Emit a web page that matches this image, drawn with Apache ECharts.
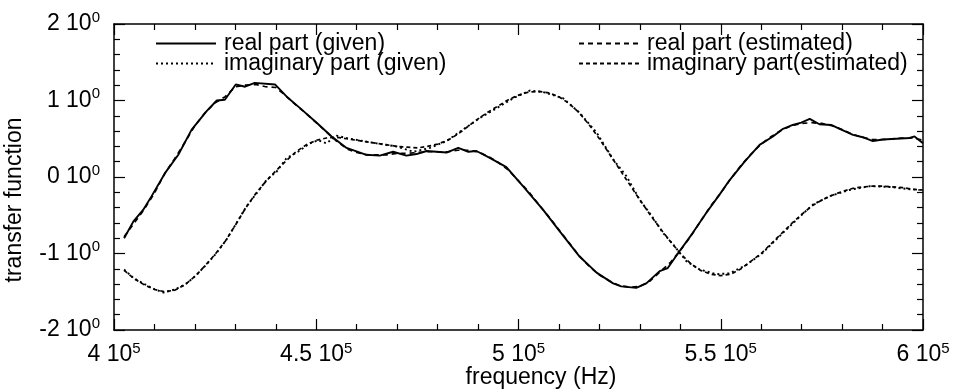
<!DOCTYPE html>
<html>
<head>
<meta charset="utf-8">
<script src="https://cdn.jsdelivr.net/npm/echarts@6/dist/echarts.min.js"></script>
<style>
  html, body { margin: 0; padding: 0; background: #fff; }
  #chart { width: 955px; height: 391px; }
</style>
</head>
<body>
<div id="chart"></div>
<script>
// Frequencies in kHz, transfer function values (dimensionless)
const realGivenF = [402.5,404.8,407.2,409.3,412.6,415.9,419.2,422.9,425.4,427.4,430.1,432.4,434.8,439.8,442.7,446.0,450.1,453.8,457.5,462.4,465.7,469.0,472.3,474.8,477.3,482.2,485.1,487.6,489.6,492.9,497.0,501.1,506.1,510.2,515.1,519.3,523.4,525.4,529.1,531.6,534.9,536.9,539.8,543.1,546.4,549.7,552.2,555.9,559.6,562.9,565.4,567.8,569.9,572.0,574.4,577.3,579.4,582.7,585.1,587.6,590.1,593.4,596.7,597.9,600.0];
const realGivenV = [-0.80,-0.58,-0.43,-0.25,0.05,0.29,0.62,0.86,1.00,1.01,1.21,1.18,1.23,1.21,1.05,0.90,0.71,0.53,0.38,0.29,0.28,0.33,0.28,0.30,0.34,0.32,0.38,0.33,0.34,0.25,0.13,-0.12,-0.43,-0.71,-1.04,-1.25,-1.39,-1.43,-1.45,-1.39,-1.23,-1.19,-0.97,-0.73,-0.47,-0.23,-0.04,0.20,0.42,0.53,0.63,0.68,0.71,0.76,0.69,0.68,0.63,0.55,0.52,0.47,0.49,0.50,0.51,0.53,0.44];

const imagGivenF = [402.5,404.8,407.2,409.7,412.2,415.1,418.0,420.4,422.9,425.4,427.8,430.3,432.8,435.3,437.7,440.2,442.7,445.5,448.4,450.5,452.5,455.0,458.3,461.6,464.9,469.8,474.0,478.1,482.2,486.3,490.4,494.6,498.7,502.8,506.1,511.0,515.1,519.3,523.4,526.7,530.0,532.4,534.1,535.7,538.2,541.5,544.8,548.9,552.2,556.3,560.4,565.4,569.5,572.8,576.9,581.8,586.8,591.7,596.7,599.2];
const imagGivenV = [-1.21,-1.32,-1.39,-1.46,-1.51,-1.47,-1.39,-1.28,-1.14,-0.99,-0.82,-0.60,-0.38,-0.21,-0.04,0.07,0.25,0.33,0.44,0.48,0.44,0.54,0.50,0.47,0.44,0.40,0.33,0.38,0.47,0.62,0.77,0.90,1.03,1.13,1.11,1.03,0.84,0.58,0.23,0.01,-0.30,-0.47,-0.60,-0.73,-0.88,-1.10,-1.21,-1.27,-1.26,-1.15,-0.99,-0.73,-0.52,-0.36,-0.25,-0.17,-0.12,-0.13,-0.16,-0.17];

const estF = [402.5,405,407.5,410,412.5,415,417.5,420,422.5,425,427.5,430,432.5,435,437.5,440,442.5,445,447.5,450,452.5,455,457.5,460,462.5,465,467.5,470,472.5,475,477.5,480,482.5,485,487.5,490,492.5,495,497.5,500,502.5,505,507.5,510,512.5,515,517.5,520,522.5,525,527.5,530,532.5,535,537.5,540,542.5,545,547.5,550,552.5,555,557.5,560,562.5,565,567.5,570,572.5,575,577.5,580,582.5,585,587.5,590,592.5,595,597.5,600];
const realEstV = [-0.78,-0.60,-0.42,-0.21,0.04,0.24,0.45,0.67,0.84,0.97,1.05,1.18,1.20,1.21,1.18,1.17,1.06,0.94,0.83,0.71,0.59,0.47,0.37,0.32,0.29,0.29,0.29,0.31,0.31,0.32,0.33,0.33,0.33,0.35,0.35,0.33,0.27,0.19,0.09,-0.05,-0.19,-0.36,-0.52,-0.69,-0.86,-1.03,-1.17,-1.28,-1.36,-1.42,-1.44,-1.43,-1.36,-1.24,-1.12,-0.96,-0.78,-0.58,-0.38,-0.21,-0.02,0.15,0.30,0.43,0.53,0.61,0.67,0.70,0.71,0.70,0.67,0.62,0.56,0.52,0.49,0.49,0.50,0.51,0.51,0.48];
const imagEstV = [-1.22,-1.33,-1.41,-1.47,-1.50,-1.48,-1.41,-1.30,-1.16,-1.01,-0.84,-0.63,-0.41,-0.22,-0.06,0.08,0.21,0.33,0.42,0.48,0.51,0.52,0.50,0.48,0.46,0.44,0.42,0.40,0.39,0.38,0.40,0.43,0.48,0.56,0.66,0.76,0.85,0.93,1.01,1.07,1.11,1.12,1.10,1.05,0.96,0.84,0.68,0.50,0.30,0.10,-0.10,-0.30,-0.49,-0.67,-0.84,-1.00,-1.13,-1.22,-1.27,-1.29,-1.27,-1.20,-1.10,-1.00,-0.87,-0.74,-0.61,-0.49,-0.38,-0.30,-0.24,-0.19,-0.15,-0.13,-0.12,-0.12,-0.13,-0.14,-0.16,-0.17];

const seriesNames = ['real part (given)', 'imaginary part (given)', 'real part (estimated)', 'imaginary part(estimated)'];
const xAxisTitle = 'frequency (Hz)';
const yAxisTitle = 'transfer function';

const FONT = "'Liberation Sans', Arial, Helvetica, sans-serif";
const FS = 23;

function pairs(fk, v) {
  return fk.map((f, i) => [f * 1000, v[i]]);
}

// "m 10^e" style tick labels
const richLabel = {
  n: { fontSize: FS, fontFamily: FONT, color: '#000' },
  s: { fontSize: 15, fontFamily: FONT, color: '#000', padding: [0, 0, 13, 0] }
};
function xLabel(val) {
  const m = +(val / 1e5).toFixed(2);
  return '{n|' + m + ' 10}{s|5}';
}
function yLabel(val) {
  return '{n|' + val + ' 10}{s|0}';
}

const axisLineStyle = { color: '#000', width: 1.5 };
const tickStyle = { color: '#000', width: 1.2 };

function makeX(pos, showLabels) {
  return {
    type: 'value', min: 400000, max: 600000, interval: 50000, position: pos,
    axisLine: { show: true, onZero: false, lineStyle: axisLineStyle },
    axisTick: { show: true, inside: true, length: 11, lineStyle: tickStyle },
    minorTick: { show: true, splitNumber: 5, length: 6, lineStyle: tickStyle },
    splitLine: { show: false },
    axisLabel: { show: showLabels, margin: 11, formatter: xLabel, rich: richLabel }
  };
}
function makeY(pos, showLabels) {
  return {
    type: 'value', min: -2, max: 2, interval: 1, position: pos,
    axisLine: { show: true, onZero: false, lineStyle: axisLineStyle },
    axisTick: { show: true, inside: true, length: 11, lineStyle: tickStyle },
    minorTick: { show: true, splitNumber: 5, length: 6, lineStyle: tickStyle },
    splitLine: { show: false },
    axisLabel: { show: showLabels, margin: 14, formatter: yLabel, rich: richLabel }
  };
}

function lineSeries(name, data, type, width) {
  return {
    name: name, type: 'line', data: data, xAxisIndex: 0, yAxisIndex: 0,
    symbol: 'none', smooth: false,
    lineStyle: { color: '#000', width: width, type: type },
    itemStyle: { color: '#000' }
  };
}

const legendText = { fontSize: FS, fontFamily: FONT, color: '#000', lineHeight: 20, padding: [0, 0, 0, 3] };
const legendCommon = {
  orient: 'vertical', top: 32, itemWidth: 60, itemHeight: 14, itemGap: -3, padding: 0,
  selectedMode: false, textStyle: legendText,
  itemStyle: { opacity: 0 }
};

const chart = echarts.init(document.getElementById('chart'), null, { renderer: 'canvas' });
chart.setOption({
  animation: false,
  backgroundColor: '#fff',
  grid: { left: 114, right: 32, top: 24, bottom: 61 },
  xAxis: [makeX('bottom', true), makeX('top', false)],
  yAxis: [makeY('left', true), makeY('right', false)],
  legend: [
    Object.assign({ data: [seriesNames[0], seriesNames[1]], left: 155 }, legendCommon),
    Object.assign({ data: [seriesNames[2], seriesNames[3]], left: 578 }, legendCommon)
  ],
  graphic: [
    { type: 'text', x: 541, y: 378,
      style: { text: xAxisTitle, font: FS + 'px ' + FONT, fill: '#000', align: 'center', verticalAlign: 'middle' } },
    { type: 'text', x: 15, y: 200, rotation: Math.PI / 2,
      style: { text: yAxisTitle, font: FS + 'px ' + FONT, fill: '#000', align: 'center', verticalAlign: 'middle' } }
  ],
  series: [
    lineSeries(seriesNames[0], pairs(realGivenF, realGivenV), 'solid', 1.9),
    lineSeries(seriesNames[1], pairs(imagGivenF, imagGivenV), [2, 3], 1.9),
    lineSeries(seriesNames[2], pairs(estF, realEstV), [5, 4], 1.7),
    lineSeries(seriesNames[3], pairs(estF, imagEstV), [4, 3], 1.7)
  ]
});
</script>
</body>
</html>
